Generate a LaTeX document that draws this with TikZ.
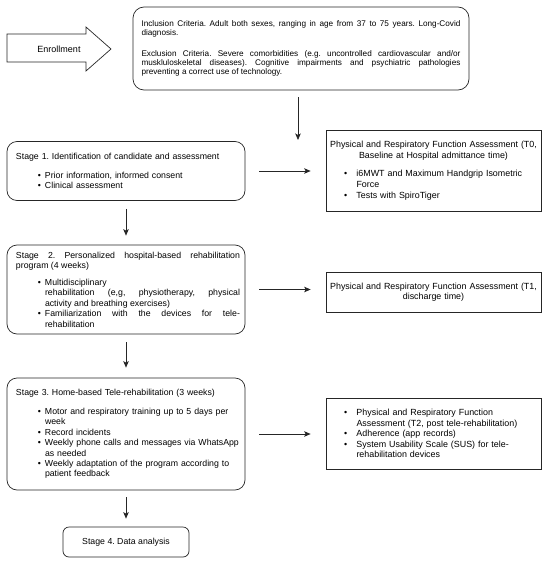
\documentclass[tikz,border=0pt]{standalone}
\usepackage{fontspec}
\setmainfont{Liberation Sans}
\usepackage{tikz}
\usetikzlibrary{scopes,arrows.meta}

\newlength{\bulpos}
\newlength{\bulind}
\newcommand{\bulline}[1]{\hangindent=\bulind\hangafter=1\hbox to \bulind{\hskip\bulpos\textbullet\hfil}#1\par}
\newcommand{\bul}[1]{\par\noindent\bulline{#1}}
\newcommand{\stagefont}{\fontsize{8.75}{10.4}\selectfont\frenchspacing}
\newcommand{\tfont}{\fontsize{8.9}{10.6}\selectfont\frenchspacing}
\newcommand{\critfont}{\fontsize{8.2}{9.2}\selectfont\frenchspacing}

\begin{document}
\begin{tikzpicture}[x=1pt,y=-1pt,
    frame/.style={rectangle,draw=black!85,line width=0.7pt,inner ysep=0pt},
    crit/.style={frame,rounded corners=11pt,text width=319pt,inner xsep=8.5pt,align=justify,font=\critfont},
    stage/.style={frame,rounded corners=10pt,text width=228pt,inner xsep=5pt,align=left,font=\stagefont,
        execute at begin node={\leftskip=4pt\setlength{\bulpos}{22pt}\setlength{\bulind}{29pt}}},
    last/.style={frame,rounded corners=6pt,minimum width=126pt,minimum height=30pt,font=\stagefont},
    tbox/.style={frame,text width=212pt,inner xsep=1.5pt,align=left,font=\tfont,
        execute at begin node={\setlength{\bulpos}{16.5pt}\setlength{\bulind}{29pt}}},
    link/.style={-{Stealth[length=6.5pt,width=5.5pt,inset=1.5pt]},draw=black!85,line width=0.7pt},
]
    \useasboundingbox (0,0) rectangle (550,562);

    % enrollment arrow
    \node[font=\fontsize{9}{11}\selectfont] (enroll) at (59,49) {Enrollment};
    \draw[draw=black!85,line width=0.7pt] (7,34) -- (86,34) -- (86,27) -- (111,49)
        -- (86,71) -- (86,62) -- (7,62) -- cycle;

    \node[crit,minimum height=83pt] (incl) at (301,48.5) {Inclusion Criteria. Adult both sexes, ranging in age from 37 to 75 years. Long-Covid\linebreak diagnosis.\par\vspace{11.5pt}
        Exclusion Criteria. Severe comorbidities (e.g. uncontrolled cardiovascular and/or\linebreak muskluloskeletal diseases). Cognitive impairments and psychiatric pathologies\linebreak preventing a correct use of technology.};

    % stages
    \node[stage,minimum height=59pt] (s1) at (126,171) {Stage 1. Identification of candidate and assessment\par\vspace{8pt}
        \bul{Prior information, informed consent}
        \bul{Clinical assessment}};
    \node[stage,align=justify,minimum height=89pt] (s2) at (126,289.5) {Stage 2. Personalized hospital-based rehabilitation\linebreak program (4 weeks)\par\vspace{6.5pt}
        \bul{Multidisciplinary\newline rehabilitation (e,g, physiotherapy, physical\linebreak activity and breathing exercises)}
        \bul{Familiarization with the devices for tele-\linebreak rehabilitation}};
    \node[stage,minimum height=112pt] (s3) at (126,434) {Stage 3. Home-based Tele-rehabilitation (3 weeks)\par\vspace{8.5pt}
        \bul{Motor and respiratory training up to 5 days per\newline week}
        \bul{Record incidents}
        \bul{Weekly phone calls and messages via WhatsApp\newline as needed}
        \bul{Weekly adaptation of the program according to\newline patient feedback}};
    \node[last] (s4) at (126,542) {Stage 4. Data analysis};

    % assessments
    \node[tbox,minimum height=81pt] (t0) at (433.5,170.5) {{\centering Physical and Respiratory Function Assessment (T0,\\ Baseline at Hospital admittance time)\par}\vspace{8pt}
        \bul{i6MWT and Maximum Handgrip Isometric\newline Force}
        \bul{Tests with SpiroTiger}};
    \node[tbox,minimum height=40pt] (t1) at (433.5,292) {{\centering Physical and Respiratory Function Assessment (T1,\\ discharge time)\par}};
    \node[tbox,minimum height=71pt] (t2) at (433.5,433.5) {\bulline{Physical and Respiratory Function\newline Assessment (T2, post tele-rehabilitation)}
        \bul{Adherence (app records)}
        \bul{System Usability Scale (SUS) for tele-\newline rehabilitation devices}};

    {[link]
        \coordinate (inclend) at (298,140);
        \draw[shorten <=7pt] (inclend |- incl.south) -- (inclend);
        \draw[shorten <=14pt,shorten >=15pt] (s1.east) -- (s1.east -| t0.west);
        \draw[shorten <=14pt,shorten >=15pt] (s2.east) -- (s2.east -| t1.west);
        \draw[shorten <=14pt,shorten >=15pt] (s3.east) -- (s3.east -| t2.west);
        \draw[shorten <=8pt,shorten >=9pt] (s1.south) -- (s2.north);
        \draw[shorten <=8pt,shorten >=10pt] (s2.south) -- (s3.north);
        \draw[shorten <=7pt,shorten >=8pt] (s3.south) -- (s4.north);
    }
\end{tikzpicture}
\end{document}
